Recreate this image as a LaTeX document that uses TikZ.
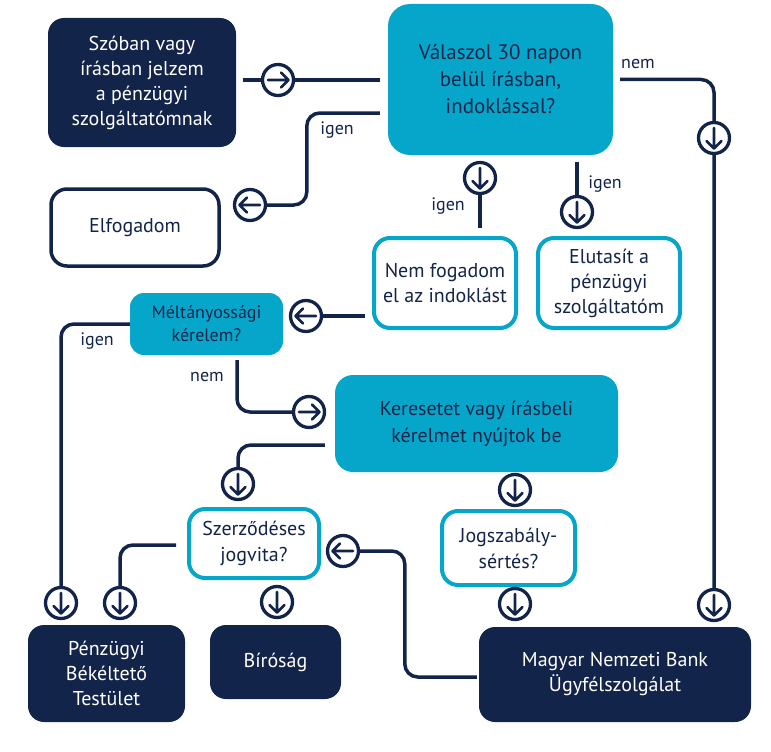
\documentclass[tikz,border=0pt]{standalone}
\usepackage{fontspec}
\setmainfont{PT Sans}
\usetikzlibrary{backgrounds,calc}
\definecolor{navy}{HTML}{13244A}
\definecolor{mnbcyan}{HTML}{06A6CB}
\begin{document}
\begin{tikzpicture}[x=1pt,y=-1pt,
  box/.style={rounded corners=16pt, align=center, inner sep=0pt, font=\fontsize{20}{25}\selectfont},
  darkbox/.style={box, fill=navy, text=white},
  cyanbox/.style={box, fill=mnbcyan, text=navy},
  whitebox/.style={box, fill=white, draw=mnbcyan, line width=4pt, text=navy},
  % circled arrow; the argument is the direction angle (y axis points down)
  circ/.style={circle, draw=navy, line width=3.3pt, fill=white, minimum size=31pt, inner sep=0pt,
    path picture={\draw[navy, line width=2.8pt, line cap=round, line join=round]
      ($(path picture bounding box.center)+(#1+180:10)$) --
      ($(path picture bounding box.center)+(#1:10.5)$)
      ($(path picture bounding box.center)+(#1:3)+(#1+90:7.5)$) --
      ($(path picture bounding box.center)+(#1:10.5)$) --
      ($(path picture bounding box.center)+(#1:3)+(#1-90:7.5)$);}},
  conn/.style={navy, line width=3.5pt, rounded corners=13pt},
  lab/.style={font=\fontsize{18}{20}\selectfont, text=navy, inner sep=0pt}]
\useasboundingbox (0,0) rectangle (771,752);

% boxes
\node[darkbox, minimum width=188pt, minimum height=129pt] (szoban) at (142,82.5)
  {Szóban vagy\\írásban jelzem\\a pénzügyi\\szolgáltatómnak};
\node[cyanbox, rounded corners=22pt, minimum width=225pt, minimum height=151pt,
  font=\fontsize{21}{27}\selectfont] (valaszol) at (500.5,79.5)
  {Válaszol 30 napon\\belül írásban,\\indoklással?};
\node[box, fill=white, draw=navy, line width=3.5pt, text=navy, minimum width=168pt,
  minimum height=77pt] (elfogadom) at (135,227.5) {Elfogadom};
\node[whitebox, minimum width=142pt, minimum height=90pt,
  font=\fontsize{20}{25}\selectfont] (nemfog) at (445,283) {Nem fogadom\\el az indoklást};
\node[whitebox, minimum width=142pt, minimum height=90pt,
  font=\fontsize{20}{25}\selectfont] (elutasit) at (609,283)
  {Elutasít a\\pénzügyi\\szolgáltatóm};
\node[cyanbox, rounded corners=14pt, minimum width=153pt, minimum height=62pt,
  font=\fontsize{18}{23}\selectfont] (meltany) at (206.5,324) {Méltányossági\\kérelem?};
\node[cyanbox, rounded corners=18pt, minimum width=283pt, minimum height=97pt,
  font=\fontsize{20}{27}\selectfont] (keres) at (476.5,423.5)
  {Keresetet vagy írásbeli\\kérelmet nyújtok be};
\node[whitebox, minimum width=130pt, minimum height=69pt,
  font=\fontsize{20}{26}\selectfont] (szerz) at (254,543.5) {Szerződéses\\jogvita?};
\node[whitebox, minimum width=133pt, minimum height=74pt,
  font=\fontsize{20}{26}\selectfont] (jogsz) at (508.5,548) {Jogszabály-\\sértés?};
\node[darkbox, minimum width=157pt, minimum height=97pt] (pbt) at (106.5,673.5)
  {Pénzügyi\\Békéltető\\Testület};
\node[darkbox, minimum width=131pt, minimum height=74pt] (birosag) at (275.5,662) {Bíróság};
\node[darkbox, minimum width=272pt, minimum height=95pt] (mnb) at (615,674.5)
  {Magyar Nemzeti Bank\\Ügyfélszolgálat};

% arrow circles (0 = right, 90 = down, 180 = left)
\node[circ=0]   (cA)  at (278,80) {};
\node[circ=180] (cB)  at (250,205) {};
\node[circ=90]  (cC1) at (714,138) {};
\node[circ=90]  (cC2) at (714,605) {};
\node[circ=90]  (cD)  at (480,178) {};
\node[circ=90]  (cE)  at (577,212) {};
\node[circ=180] (cF)  at (306,316) {};
\node[circ=90]  (cG)  at (61,603) {};
\node[circ=0]   (cH)  at (309,412) {};
\node[circ=90]  (cI)  at (238,484) {};
\node[circ=90]  (cJ)  at (515,490) {};
\node[circ=90]  (cK)  at (120,603) {};
\node[circ=90]  (cL)  at (277,602) {};
\node[circ=180] (cM)  at (343,551) {};
\node[circ=90]  (cN)  at (515,604) {};

% connectors
\begin{scope}[on background layer]
\draw[conn] ($(szoban.east |- cA)+(7,0)$) -- ($(valaszol.west |- cA)+(-8,0)$);
\draw[conn] ($(valaszol.west)+(-8,33.5)$) -- ++(-73,0) |- (cB);
\draw[conn] ($(valaszol.east)+(7,0)$) -| (cC1) -- (cC2);
\draw[conn] (cD) -- ($(nemfog.north -| cD)+(0,-8)$);
\draw[conn] ($(valaszol.south -| cE)+(0,7)$) -- (cE);
\draw[conn] ($(nemfog.west |- cF)+(-7,0)$) -- (cF);
\draw[conn] (meltany.west) -| (cG);
\draw[conn] ($(meltany.south)+(30.5,5)$) |- (cH);
\draw[conn] ($(keres.west)+(-10,21.5)$) -| (cI);
\draw[conn] ($(szerz.west)+(-11,1.5)$) -| (cK);
\draw[conn] ($(mnb.west)+(-2,2.5)$) -- ++(-72,0) |- (cM);
\end{scope}

% branch labels
\node[lab] (lB) at (337,130) {igen};
\node[lab] (lC) at (638,64) {nem};
\node[lab] (lD) at (448,206) {igen};
\node[lab] (lE) at (605,184) {igen};
\node[lab] (lG) at (97,341) {igen};
\node[lab] (lH) at (207,377) {nem};
\end{tikzpicture}
\end{document}
